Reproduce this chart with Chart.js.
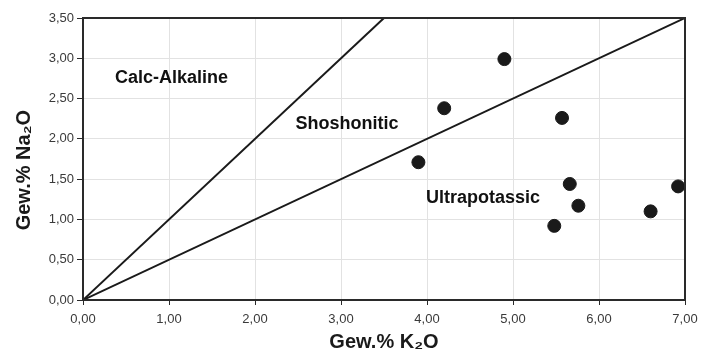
<!DOCTYPE html>
<html>
<head>
<meta charset="utf-8">
<script src="https://cdn.jsdelivr.net/npm/chart.js@4.4.1/dist/chart.umd.min.js"></script>
<style>
  body { margin: 0; background: #fff; }
  #wrap { width: 701px; height: 354px; }
</style>
</head>
<body>
<div id="wrap"><canvas id="myChart" width="701" height="354"></canvas></div>
<script>
// samples: K2O vs Na2O (Gew.%)
const k2o  = [4.90, 4.20, 5.57, 3.90, 5.66, 5.76, 5.48, 6.60, 6.92]
const na2o = [2.99, 2.38, 2.26, 1.71, 1.44, 1.17, 0.92, 1.10, 1.41]

// boundary lines (from origin)
const lineCalcX = [0, 3.5]
const lineCalcY = [0, 3.5]
const lineUltraX = [0, 7]
const lineUltraY = [0, 3.5]

// field names and where they sit (data units)
const fieldNames = ['Calc-Alkaline', 'Shoshonitic', 'Ultrapotassic']
const fieldX = [1.03, 3.07, 4.65]
const fieldY = [2.76, 2.19, 1.26]

const xTicks = [0, 1, 2, 3, 4, 5, 6, 7]
const yTicks = [0, 0.5, 1, 1.5, 2, 2.5, 3, 3.5]

const toPts = (xs, ys) => xs.map((x, i) => ({ x: x, y: ys[i] }))
const fmt = v => v.toFixed(2).replace('.', ',')

const boxAndLabels = {
  id: 'boxAndLabels',
  afterDatasetsDraw(chart) {
    const ctx = chart.ctx
    const a = chart.chartArea
    const sx = chart.scales.x
    const sy = chart.scales.y
    ctx.save()
    ctx.strokeStyle = '#2a2a2a'
    ctx.lineWidth = 2
    ctx.strokeRect(a.left, a.top, a.right - a.left, a.bottom - a.top)
    ctx.fillStyle = '#111'
    ctx.font = 'bold 18px "Liberation Sans", Arial, sans-serif'
    ctx.textAlign = 'center'
    ctx.textBaseline = 'middle'
    for (let i = 0; i < fieldNames.length; i++) {
      ctx.fillText(fieldNames[i], sx.getPixelForValue(fieldX[i]), sy.getPixelForValue(fieldY[i]))
    }
    ctx.restore()
  }
}

const elem = document.querySelector('#myChart')
new Chart(elem, {
  type: 'scatter',
  data: {
    datasets: [
      {
        label: 'Calc-Alkaline / Shoshonitic',
        data: toPts(lineCalcX, lineCalcY),
        showLine: true,
        borderColor: '#1a1a1a',
        borderWidth: 2,
        pointRadius: 0
      },
      {
        label: 'Shoshonitic / Ultrapotassic',
        data: toPts(lineUltraX, lineUltraY),
        showLine: true,
        borderColor: '#1a1a1a',
        borderWidth: 2,
        pointRadius: 0
      },
      {
        label: 'Samples',
        data: toPts(k2o, na2o),
        backgroundColor: '#1a1a1a',
        borderColor: '#1a1a1a',
        pointRadius: 6.5,
        pointHoverRadius: 6.5
      }
    ]
  },
  options: {
    responsive: false,
    animation: false,
    layout: { padding: { top: 18, right: 16, left: 0, bottom: 0 } },
    plugins: {
      legend: { display: false },
      tooltip: { enabled: false }
    },
    scales: {
      x: {
        type: 'linear',
        min: 0,
        max: 7,
        afterBuildTicks: scale => { scale.ticks = xTicks.map(v => ({ value: v })) },
        afterFit: scale => {
          scale.height = 54
          scale.paddingLeft = 0
          scale.paddingRight = 0
        },
        ticks: {
          callback: v => fmt(v),
          color: '#3a3a3a',
          font: { size: 13, family: '"Liberation Sans", Arial, sans-serif' },
          padding: 7,
          maxRotation: 0
        },
        grid: { color: '#e2e2e2', lineWidth: 1, tickLength: 5, tickColor: '#2a2a2a' },
        border: { display: false },
        title: {
          display: true,
          text: 'Gew.% K₂O',
          color: '#1a1a1a',
          font: { size: 20, weight: 'bold', family: '"Liberation Sans", Arial, sans-serif' },
          padding: { top: 2, bottom: 0 }
        }
      },
      y: {
        type: 'linear',
        min: 0,
        max: 3.5,
        afterBuildTicks: scale => { scale.ticks = yTicks.map(v => ({ value: v })) },
        afterFit: scale => {
          scale.width = 83
          scale.paddingTop = 0
          scale.paddingBottom = 0
        },
        ticks: {
          callback: v => fmt(v),
          color: '#3a3a3a',
          font: { size: 13, family: '"Liberation Sans", Arial, sans-serif' },
          padding: 3
        },
        grid: { color: '#e2e2e2', lineWidth: 1, tickLength: 6, tickColor: '#2a2a2a' },
        border: { display: false },
        title: {
          display: true,
          // trailing spaces nudge the rotated title a bit lower, like the original
          text: 'Gew.% Na₂O    ',
          color: '#1a1a1a',
          font: { size: 20, weight: 'bold', family: '"Liberation Sans", Arial, sans-serif' },
          padding: { top: 12, bottom: 0 }
        }
      }
    }
  },
  plugins: [boxAndLabels]
})
</script>
</body>
</html>
